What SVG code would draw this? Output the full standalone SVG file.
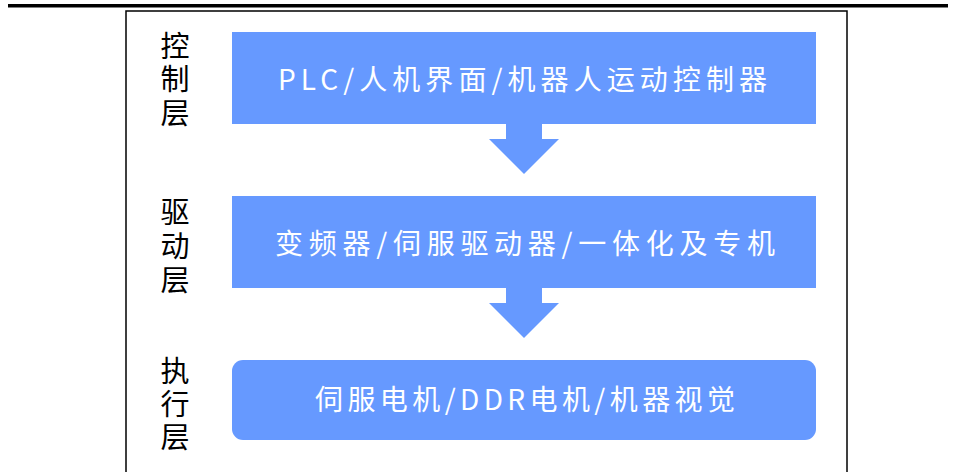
<svg xmlns="http://www.w3.org/2000/svg" width="955" height="472" viewBox="0 0 955 472">
<style>
.box{fill:#6699FF}
.lbl{font-family:"Noto Sans CJK SC",sans-serif;font-size:29px;fill:#000;text-anchor:middle}
.t{font-family:"Noto Sans CJK SC",sans-serif;font-size:28px;fill:#fff}
</style>
<rect x="0" y="0" width="955" height="472" fill="#fff"/>
<rect x="8" y="4" width="940" height="3.5" fill="#000"/>
<rect x="126" y="11" width="721" height="470" fill="none" stroke="#000" stroke-width="1.5"/>
<g id="labels">
<text class="lbl"><tspan x="175" y="57">控</tspan><tspan x="175" y="90">制</tspan><tspan x="175" y="124">层</tspan></text>
<text class="lbl"><tspan x="175" y="223">驱</tspan><tspan x="175" y="257">动</tspan><tspan x="175" y="291">层</tspan></text>
<text class="lbl"><tspan x="175" y="382">执</tspan><tspan x="175" y="415">行</tspan><tspan x="175" y="448">层</tspan></text>
</g>
<g id="connectors">
<polygon class="box" points="506,124 542,124 542,139 559,139 524,174 489,139 506,139"/>
<polygon class="box" points="506,288 542,288 542,303 559,303 524,338 489,303 506,303"/>
</g>
<g id="control">
<rect class="box" x="232" y="32" width="584" height="92"/>
<text class="t" x="278" y="90" textLength="489" lengthAdjust="spacing">PLC/人机界面/机器人运动控制器</text>
</g>
<g id="drive">
<rect class="box" x="232" y="196" width="584" height="92"/>
<text class="t" x="275" y="254" textLength="500" lengthAdjust="spacing">变频器/伺服驱动器/一体化及专机</text>
</g>
<g id="execute">
<rect class="box" x="232" y="360" width="584" height="80" rx="11" ry="11"/>
<text class="t" x="315" y="410" textLength="420" lengthAdjust="spacing">伺服电机/DDR电机/机器视觉</text>
</g>
</svg>
